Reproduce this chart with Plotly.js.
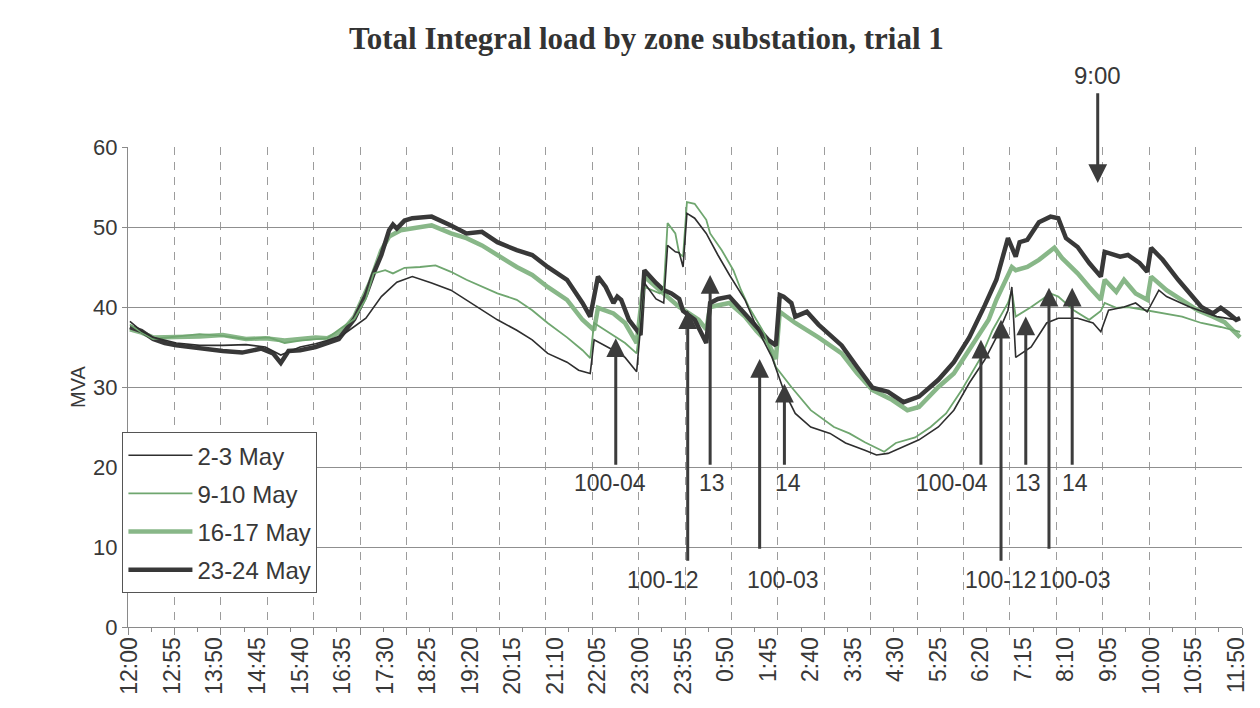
<!DOCTYPE html>
<html>
<head>
<meta charset="utf-8">
<script src="https://cdn.plot.ly/plotly-3.0.1.min.js"></script>
<style>html,body{margin:0;padding:0;background:#fff;}#chart{width:1260px;height:708px;}</style>
</head>
<body>
<div id="chart"></div>
<script>
// ---------------- DATA ----------------
const tickLabels = ['12:00','12:55','13:50','14:45','15:40','16:35','17:30','18:25','19:20','20:15','21:10','22:05','23:00','23:55','0:50','1:45','2:40','3:35','4:30','5:25','6:20','7:15','8:10','9:05','10:00','10:55','11:50'];

const seriesNames = ['2-3 May','9-10 May','16-17 May','23-24 May'];

const may2Times = ['12:00','12:15','12:30','13:00','13:30','14:00','14:30','14:55','15:15','15:40','16:00','16:15','16:35','16:50','17:05','17:25','17:45','18:05','18:30','18:55','19:15','19:35','19:55','20:20','20:40','21:00','21:25','21:40','21:55','22:00','22:25','22:40','22:55','23:05','23:20','23:30','23:35','23:45','23:50','23:55','0:00','0:10','0:25','0:40','0:55','1:15','1:30','1:50','2:05','2:20','2:40','3:05','3:25','3:50','4:05','4:20','4:40','5:00','5:25','5:45','6:05','6:25','6:40','6:55','7:00','7:05','7:25','7:45','8:00','8:25','8:45','8:55','9:05','9:25','9:40','9:55','10:10','10:20','10:50','11:25','11:50','11:55'];
const may2Values = [38.2,37,36.2,35.5,35.2,35.2,35.3,35,34,35,35.4,35.8,36.5,37.5,38.6,41.3,43.1,43.8,43,42.1,40.9,39.6,38.4,37.1,35.9,34.2,33.1,32.1,31.7,35.9,34.6,33.7,31.9,43,41,40.5,47.7,46.9,46.8,45,51.7,51.1,49.2,46.5,44,40.9,37.5,33.7,29.6,26.7,25,24.2,23,22.1,21.5,21.7,22.5,23.4,25,27.1,30.5,33.4,36.2,39.6,42.5,33.7,35,38,38.6,38.6,38,36.9,39.6,40,40.5,39.4,42.1,41.3,40,38.8,38.4,38.6];

const may9Times = ['12:00','12:15','12:30','13:00','13:30','14:00','14:30','15:00','15:20','15:40','16:00','16:15','16:35','16:50','17:05','17:15','17:30','17:40','17:55','18:15','18:35','18:55','19:15','19:35','19:55','20:20','20:40','21:00','21:25','21:45','21:55','22:00','22:20','22:40','22:55','23:05','23:25','23:30','23:35','23:45','23:50','23:55','0:00','0:10','0:25','0:30','0:45','1:00','1:10','1:20','1:40','1:55','2:15','2:40','3:10','3:30','3:50','4:05','4:15','4:30','4:55','5:15','5:35','5:55','6:20','6:35','6:55','7:00','7:05','7:25','7:50','8:00','8:20','8:40','8:55','9:00','9:15','9:30','9:55','10:20','10:40','11:05','11:30','11:55'];
const may9Values = [37.8,36.8,36,36.3,36.6,36.4,36,36.2,35.5,35.8,36,36.1,37.5,38.5,41,44.2,44.6,44.2,44.9,45,45.2,44.4,43.4,42.5,41.7,40.9,39.6,38,36.2,34.6,33.6,38,36.7,35.5,34.2,42.5,41.7,42.1,50.5,49.2,46.7,46.3,53.1,52.9,50.9,49.2,47.1,44.6,42.1,40,36.7,32.5,30,27.1,25,24.2,23.1,22.4,21.9,23,23.7,25,26.7,29.6,33.7,37.1,40.5,42,38.8,40,41.7,41.3,39.6,38.4,39.5,40.5,39.9,40,39.6,39.2,38.8,38,37.5,36.9];

const may16Times = ['12:00','12:15','12:30','13:00','13:30','14:00','14:30','14:55','15:20','15:40','16:00','16:15','16:35','16:50','17:10','17:25','17:35','17:50','18:15','18:30','18:55','19:15','19:35','19:55','20:20','20:40','21:00','21:25','21:45','22:00','22:05','22:25','22:40','22:55','23:05','23:25','23:50','0:15','0:25','0:30','0:55','1:15','1:30','1:45','1:55','2:00','2:20','2:50','3:20','3:40','4:00','4:25','4:45','5:00','5:25','5:45','6:05','6:30','6:40','7:00','7:05','7:20','7:35','7:55','8:05','8:25','8:40','8:55','9:00','9:15','9:25','9:40','9:55','10:00','10:20','10:40','11:00','11:20','11:35','11:55'];
const may16Values = [37.2,36.8,36.2,36.2,36.3,36.5,36,36.1,35.8,36,36.2,36.1,37,38.8,43,47.1,48.8,49.6,49.9,50.2,49.2,48.6,47.7,46.5,45,44,42.5,40.9,38.4,37.1,39.9,39.2,38,35.5,43.8,42.1,40,38.4,37.2,40,40.5,38.8,37,35.5,33.5,39.4,38,36.2,34.2,31.7,29.6,28.4,27.1,27.5,30,31.7,34.6,38.4,40.9,45,44.6,45,45.9,47.4,46.1,44.2,42.5,40.9,43.4,41.9,43.4,41.7,40.9,43.8,42.1,40.9,39.6,38.8,38.1,36.2];

const may23Times = ['12:00','12:15','12:30','12:45','13:00','13:30','14:00','14:25','14:50','15:05','15:15','15:25','15:40','16:00','16:15','16:30','16:50','17:05','17:15','17:25','17:35','17:40','17:45','17:55','18:05','18:30','18:55','19:15','19:35','19:55','20:20','20:40','21:00','21:25','21:45','21:55','22:05','22:15','22:20','22:25','22:30','22:35','22:45','23:00','23:05','23:15','23:20','23:30','23:40','23:50','23:55','0:10','0:20','0:25','0:30','0:40','0:55','1:15','1:30','1:45','1:55','2:00','2:05','2:15','2:20','2:30','2:35','2:50','3:20','3:40','4:00','4:20','4:40','5:00','5:25','5:45','6:05','6:25','6:40','6:55','7:05','7:10','7:20','7:35','7:50','8:00','8:10','8:25','8:40','8:55','9:00','9:20','9:30','9:45','9:55','10:00','10:15','10:35','10:50','11:05','11:20','11:30','11:40','11:50','11:55'];
const may23Values = [37.5,37,36,35.5,35.2,34.8,34.5,34.3,34.8,34.2,33,34.5,34.6,35,35.5,36,38.5,41.5,44.2,46.5,49.6,50.3,49.8,50.8,51.1,51.3,50.2,49.2,49.4,48.1,47.1,46.5,45,43.4,40.5,38.8,43.8,42.5,41.5,40.5,41.3,40.9,38.4,36.5,44.6,43.4,43,42.1,41.7,41,39.5,38.4,36.5,35.5,40.5,41,41.3,39.2,37.5,35.9,35.2,41.5,41.3,40.5,38.8,39.3,39.4,37.8,35.2,32.5,29.9,29.4,28.1,28.8,30.9,33.1,36.2,40.2,43.4,48.6,46.3,48.1,48.4,50.6,51.3,51.1,48.6,47.5,45.5,43.8,46.9,46.3,46.5,45.5,44.4,47.4,45.9,43.4,41.7,40,39.2,39.9,39.2,38.4,38.6];

// Switching events marked with arrows
const eventLabels = ['100-04','100-12','13','100-03','14','100-04','100-12','13','100-03','14'];
const eventTimes  = ['22:28','0:01','0:30','1:34','2:06','6:20','6:46','7:18','7:48','8:18'];
const eventTip    = [36.1, 39.6, 44.0, 33.5, 30.4, 35.9, 38.4, 38.8, 42.4, 42.4];
const eventTail   = [20.1, 8.1, 20.1, 9.6, 20.1, 20.1, 8.1, 20.1, 9.6, 20.1];
const markerLabel = '9:00';
const markerTime  = '8:51';
const markerTip   = 55.5;
const markerTail  = 66.9;

// ---------------- HELPERS ----------------
function toMin(s){ const p=s.split(':'); const m=(+p[0])*60+(+p[1]); return (m-720+1440)%1440; }
const tickVals = tickLabels.map(toMin);
const FONT = 'Liberation Sans, Arial, sans-serif';
const TXT = '#383838';
const XRANGE = [-2.5, 1437.5];   // 288 five-minute slots, points centred in slots

const styles = [
  {color:'#2e2e2e', width:1.6},
  {color:'#6fa66f', width:1.8},
  {color:'#88b788', width:4.5},
  {color:'#383838', width:4.5}
];
const allTimes = [may2Times, may9Times, may16Times, may23Times];
const allVals  = [may2Values, may9Values, may16Values, may23Values];
const drawOrder = [2,3,1,0];

const traces = drawOrder.map(i => ({
  type:'scatter', mode:'lines',
  name: seriesNames[i],
  x: allTimes[i].map(toMin),
  y: allVals[i],
  line: {color: styles[i].color, width: styles[i].width},
  legendrank: i+1,
  legendgroup: 'g'+i,
  hoverinfo:'skip'
}));
// empty helper trace so the overlay axis (half-hour tick marks) is created
traces.push({type:'scatter', x:[], y:[], xaxis:'x2', yaxis:'y', showlegend:false, hoverinfo:'skip'});

const labelLevel = {up:18.0, low:5.9};
const labelDx = [-6, -25, 2, 23, 4, -29, 0, 2, 26, 3];
const annotations = [];
eventLabels.forEach((lab,i)=>{
  const x = toMin(eventTimes[i]);
  annotations.push({
    x:x, y:eventTip[i], xref:'x', yref:'y',
    ax:x, ay:eventTail[i], axref:'x', ayref:'y',
    text:'', showarrow:true, arrowhead:2, arrowsize:1.25, arrowwidth:3,
    arrowcolor:'#3c3c3c', standoff:0, startstandoff:0
  });
  const low = eventTail[i] < 15;
  annotations.push({
    x:x, y: low ? labelLevel.low : labelLevel.up, xref:'x', yref:'y',
    text: lab, showarrow:false, xshift: labelDx[i],
    font:{family:FONT, size:23, color:TXT}
  });
});
const mx = toMin(markerTime);
annotations.push({
  x:mx, y:markerTip, xref:'x', yref:'y',
  ax:mx, ay:markerTail, axref:'x', ayref:'y',
  text:'', showarrow:true, arrowhead:2, arrowsize:1.25, arrowwidth:3,
  arrowcolor:'#3c3c3c', standoff:0, startstandoff:0
});
annotations.push({
  x:mx, y:1.148, xref:'x', yref:'paper', yanchor:'middle', text:markerLabel, showarrow:false,
  font:{family:FONT, size:24, color:TXT}
});

const GRID = '#9c9c9c', AX = '#8a8a8a';
const layout = {
  width:1260, height:708,
  margin:{l:128, r:18, t:147, b:81, pad:0},
  paper_bgcolor:'#ffffff', plot_bgcolor:'#ffffff',
  font:{family:FONT, size:22, color:TXT},
  title:{
    text:'<b>Total Integral load by zone substation, trial 1</b>',
    font:{family:'Liberation Serif, Times New Roman, serif', size:31, color:'#333'},
    x:0.513, xanchor:'center', y:0.946, yanchor:'middle', xref:'container', yref:'container'
  },
  showlegend:true,
  legend:{
    x:-0.005, xanchor:'left', y:0.406, yanchor:'top',
    bgcolor:'#ffffff', bordercolor:'#555', borderwidth:1,
    font:{family:FONT, size:24, color:TXT},
    tracegroupgap:4, traceorder:'grouped', itemwidth:64
  },
  xaxis:{
    range:XRANGE, tickmode:'array', tickvals:tickVals, ticktext:tickLabels,
    tickangle:-90, tickfont:{family:FONT, size:23, color:TXT},
    ticks:'', showgrid:false,
    minor:{tickmode:'linear', tick0:-2.5, dtick:60, ticks:'outside', ticklen:7, tickcolor:AX,
           showgrid:true, gridcolor:GRID, gridwidth:1, griddash:'8px,7px'},
    showline:true, linecolor:AX, linewidth:1,
    zeroline:false, automargin:false, fixedrange:true
  },
  xaxis2:{
    overlaying:'x', anchor:'y', side:'bottom', range:XRANGE,
    tickmode:'linear', tick0:27.5, dtick:60, ticks:'outside', ticklen:4, tickcolor:AX,
    showticklabels:false, showgrid:false, showline:false, zeroline:false,
    automargin:false, fixedrange:true
  },
  yaxis:{
    range:[0,60], dtick:10, tick0:0,
    tickfont:{family:FONT, size:22, color:TXT},
    showgrid:true, gridcolor:'#8f8f8f', gridwidth:1,
    showline:true, linecolor:AX, linewidth:1,
    ticks:'outside', ticklen:5, tickcolor:AX,
    zeroline:false, automargin:false, fixedrange:true,
    title:{text:'MVA', font:{family:FONT, size:20, color:TXT}, standoff:2}
  },
  annotations: annotations
};

Plotly.newPlot('chart', traces, layout, {displayModeBar:false, staticPlot:true});
</script>
</body>
</html>
